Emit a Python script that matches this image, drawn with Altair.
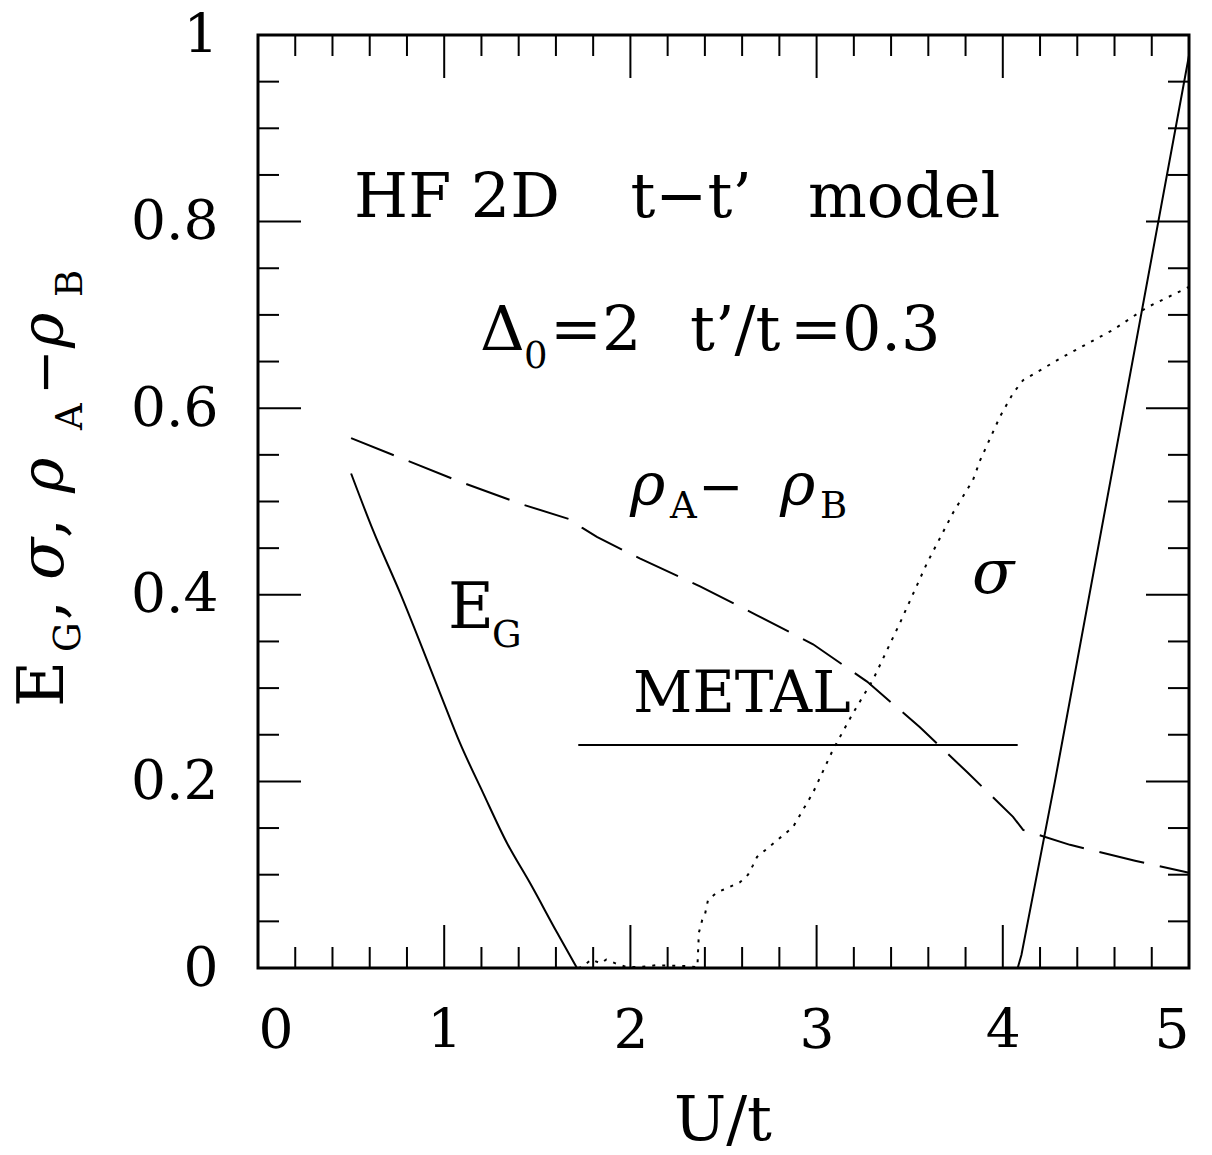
import altair as alt
import pandas as pd

FONT = "DejaVu Serif"

# ---- data ----
eg_left_x = [0.5, 0.618, 0.763, 0.977, 1.085, 1.208, 1.337, 1.461, 1.606, 1.713]
eg_left_y = [0.53, 0.469, 0.402, 0.295, 0.241, 0.188, 0.134, 0.091, 0.038, 0.0]

eg_right_x = [4.08, 4.10, 4.28, 5.0]
eg_right_y = [0.0, 0.014, 0.20, 0.978]

rho_x = [0.5, 1.074, 1.418, 1.69, 1.74, 1.82, 2.05, 2.374, 2.680, 2.981, 3.271,
         3.555, 3.808, 4.055, 4.109, 4.361, 4.710, 5.0]
rho_y = [0.568, 0.522, 0.497, 0.480, 0.472, 0.462, 0.439, 0.409, 0.378, 0.347, 0.307,
         0.258, 0.210, 0.162, 0.148, 0.132, 0.115, 0.102]

sig_x = [1.72, 1.74, 1.79, 1.84, 1.87, 1.92, 1.98, 2.05, 2.14, 2.30, 2.36, 2.363, 2.368,
         2.385, 2.40, 2.417, 2.465, 2.535, 2.589, 2.632, 2.658, 2.680, 2.873, 2.981,
         3.088, 3.195, 3.303, 3.448, 3.593, 3.733, 3.840, 3.878, 3.985, 4.055, 4.109,
         4.323, 4.592, 4.774, 5.0]
sig_y = [0.0, 0.001, 0.009, 0.005, 0.009, 0.005, 0.001, 0.001, 0.003, 0.002, 0.001, 0.016,
         0.038, 0.051, 0.057, 0.073, 0.081, 0.087, 0.092, 0.100, 0.110, 0.119, 0.151,
         0.188, 0.234, 0.273, 0.309, 0.370, 0.434, 0.488, 0.523, 0.544, 0.591, 0.616,
         0.630, 0.655, 0.684, 0.708, 0.730]

metal_x = [1.72, 4.08]
metal_y = [0.239, 0.239]

x_major = [0, 1, 2, 3, 4, 5]
x_minor = [0.2, 0.4, 0.6, 0.8, 1.2, 1.4, 1.6, 1.8, 2.2, 2.4, 2.6, 2.8,
           3.2, 3.4, 3.6, 3.8, 4.2, 4.4, 4.6, 4.8]
y_major = [0, 0.2, 0.4, 0.6, 0.8, 1]
y_minor = [0.05, 0.1, 0.15, 0.25, 0.3, 0.35, 0.45, 0.5, 0.55, 0.65, 0.7, 0.75,
           0.85, 0.9, 0.95]

# in-plot annotations (data coordinates)
ann_text = ["HF 2D", "t\u2212t\u2019", "model",
            "\u0394", "0", "=2", "t\u2019/t", "=0.3",
            "\u03c1", "A", "\u2212", "\u03c1", "B",
            "\u03c3", "E", "G", "METAL"]
ann_x = [0.516, 2.001, 2.954,
         1.192, 1.429, 1.568, 2.320, 2.857,
         1.998, 2.213, 2.363, 2.803, 3.018,
         3.835, 1.020, 1.257, 2.014]
ann_y = [0.805, 0.805, 0.805,
         0.662, 0.643, 0.662, 0.662, 0.662,
         0.496, 0.482, 0.496, 0.496, 0.482,
         0.402, 0.364, 0.344, 0.274]
ann_fs = [62, 62, 62,
          62, 37, 62, 62, 62,
          60, 37, 54, 60, 37,
          62, 63, 37, 58]
ann_style = ["normal", "normal", "normal",
             "normal", "normal", "normal", "normal", "normal",
             "italic", "normal", "normal", "italic", "normal",
             "italic", "normal", "normal", "normal"]

# y-axis title pieces (rotated)
yt_text = ["E", "G", ",", "\u03c3", ",", "\u03c1", "A", "\u2212", "\u03c1", "B"]
yt_fs = [63, 37, 63, 62, 63, 60, 37, 54, 60, 37]
yt_style = ["normal", "normal", "normal", "italic", "normal", "italic", "normal",
            "normal", "italic", "normal"]

W, H = 931, 933
yt_px = [-195, -178, -195, -195, -195, -195, -176, -195, -195, -176]
yt_py = [672, 617, 585, 545, 503, 458, 395, 360, 313, 262]

xs = alt.Scale(domain=[0, 5], nice=False, zero=False)
ys = alt.Scale(domain=[0, 1], nice=False, zero=False)
xaxis = alt.Axis(values=x_major, labelPadding=36, labelFontSize=55, labelFont=FONT,
                 ticks=False, domain=False, grid=False, labelColor="black")
yaxis = alt.Axis(values=y_major, labelPadding=40, labelFontSize=55, labelFont=FONT,
                 ticks=False, domain=False, grid=False, labelColor="black", format="~g")


def X(f):
    return alt.X(f, type="quantitative", scale=xs, axis=xaxis, title=None)


def Y(f):
    return alt.Y(f, type="quantitative", scale=ys, axis=yaxis, title=None)


def line_df(xv, yv):
    return pd.DataFrame({"x": xv, "y": yv, "i": list(range(len(xv)))})


def curve(xv, yv, dash=None, interp="linear"):
    kw = dict(color="black", strokeWidth=2, interpolate=interp)
    if dash:
        kw["strokeDash"] = dash
    return alt.Chart(line_df(xv, yv)).mark_line(**kw).encode(
        x=X("x"), y=Y("y"), order="i:Q")


layers = [
    curve(eg_left_x, eg_left_y, interp="monotone"),
    curve(eg_right_x, eg_right_y),
    curve(rho_x, rho_y, [46, 16]),
    curve(sig_x, sig_y, [3, 7]),
    curve(metal_x, metal_y),
]

MAJ, MIN = 43, 21


def xticks(vals, length):
    d = pd.DataFrame({"v": vals})
    bot = alt.Chart(d).mark_rule(color="black", strokeWidth=2).encode(
        x=X("v"), y=alt.value(H), y2=alt.value(H - length))
    top = alt.Chart(d).mark_rule(color="black", strokeWidth=2).encode(
        x=X("v"), y=alt.value(0), y2=alt.value(length))
    return [bot, top]


def yticks(vals, length):
    d = pd.DataFrame({"v": vals})
    left = alt.Chart(d).mark_rule(color="black", strokeWidth=2).encode(
        y=Y("v"), x=alt.value(0), x2=alt.value(length))
    right = alt.Chart(d).mark_rule(color="black", strokeWidth=2).encode(
        y=Y("v"), x=alt.value(W), x2=alt.value(W - length))
    return [left, right]


layers += xticks(x_major, MAJ) + xticks(x_minor, MIN) + yticks(y_major, MAJ) + yticks(y_minor, MIN)

for t, x, y, fs, st in zip(ann_text, ann_x, ann_y, ann_fs, ann_style):
    layers.append(
        alt.Chart(pd.DataFrame({"t": [t], "x": [x], "y": [y]})).mark_text(
            align="left", baseline="alphabetic", font=FONT, color="black",
            fontSize=fs, fontStyle=st).encode(
            x=X("x"), y=Y("y"), text="t:N")
    )

for t, fs, st, px, py in zip(yt_text, yt_fs, yt_style, yt_px, yt_py):
    layers.append(
        alt.Chart(pd.DataFrame({"t": [t]})).mark_text(
            align="left", baseline="alphabetic", font=FONT, color="black",
            fontSize=fs, fontStyle=st, angle=270).encode(
            text="t:N", x=alt.value(px), y=alt.value(py))
    )

layers.append(
    alt.Chart(pd.DataFrame({"t": ["U/t"]})).mark_text(
        align="center", baseline="alphabetic", font=FONT, color="black", fontSize=62).encode(
        text="t:N", x=alt.value(465), y=alt.value(1105))
)

chart = alt.layer(*layers).properties(
    width=W, height=H,
    autosize=alt.AutoSizeParams(type="none"),
    padding={"left": 250, "top": 27, "right": 15, "bottom": 180},
).configure_view(stroke="black", strokeWidth=3).configure_axis(grid=False)

chart.save("out.html", embed_options={"renderer": "svg", "actions": False})
